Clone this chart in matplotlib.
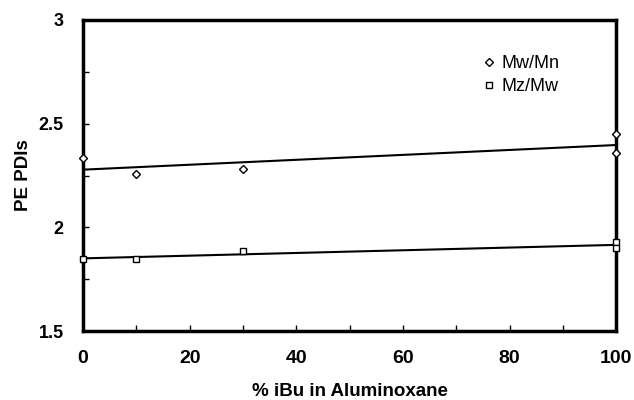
import matplotlib
matplotlib.use("Agg")
import matplotlib.pyplot as plt
import numpy as np

plt.rcParams["font.family"] = ["Liberation Sans", "DejaVu Sans"]

# polydispersity indices vs. isobutyl content of the aluminoxane
ibu_mwmn = [0, 10, 30, 100, 100]
mwmn = [2.332, 2.255, 2.282, 2.448, 2.359]
ibu_mzmw = [0, 10, 30, 100, 100]
mzmw = [1.849, 1.845, 1.887, 1.928, 1.899]

xticks_major = [0, 20, 40, 60, 80, 100]
yticks_major = [1.5, 2, 2.5, 3]

fig = plt.figure(figsize=(6.34, 4.0), dpi=100)
ax = fig.add_axes([0.131, 0.1725, 0.841, 0.7775])

xs = np.array([0, 100])
for x, y, mk, ms, lab in [(ibu_mwmn, mwmn, "D", 4, "Mw/Mn"),
                          (ibu_mzmw, mzmw, "s", 5, "Mz/Mw")]:
    ax.plot(x, y, ls="none", marker=mk, ms=ms, mfc="white", mec="black",
            mew=1.0, clip_on=False, zorder=4, label=lab)
    k, b = np.polyfit(x, y, 1)
    ax.plot(xs, k * xs + b, color="black", lw=1.5, zorder=3)

ax.set_xlim(0, 100)
ax.set_ylim(1.5, 3)
ax.set_xticks(xticks_major)
ax.set_xticks(np.arange(0, 101, 10), minor=True)
ax.set_yticks(yticks_major)
ax.set_yticklabels(["1.5", "2", "2.5", "3"])
ax.set_yticks(np.arange(1.5, 3.01, 0.25), minor=True)
ax.tick_params(which="both", direction="in", length=4, width=1)
ax.tick_params(axis="x", which="major", pad=14, labelsize=14)
ax.tick_params(axis="y", which="major", pad=14, labelsize=13)
for t in ax.get_xticklabels() + ax.get_yticklabels():
    t.set_fontweight("bold")
for s in ax.spines.values():
    s.set_linewidth(2.5)

ax.set_xlabel("% iBu in Aluminoxane", fontsize=13.5, fontweight="bold", labelpad=11)
ax.set_ylabel("PE PDIs", fontsize=13.5, fontweight="bold", labelpad=5)

ax.legend(loc="upper left", bbox_to_anchor=(484 / 634, 1 - 55 / 400),
          bbox_transform=fig.transFigure, frameon=False, borderpad=0,
          borderaxespad=0, fontsize=13, handlelength=0.6, handletextpad=0.35,
          labelspacing=0.35, numpoints=1)

fig.savefig("out.png", dpi=100, facecolor="white")
